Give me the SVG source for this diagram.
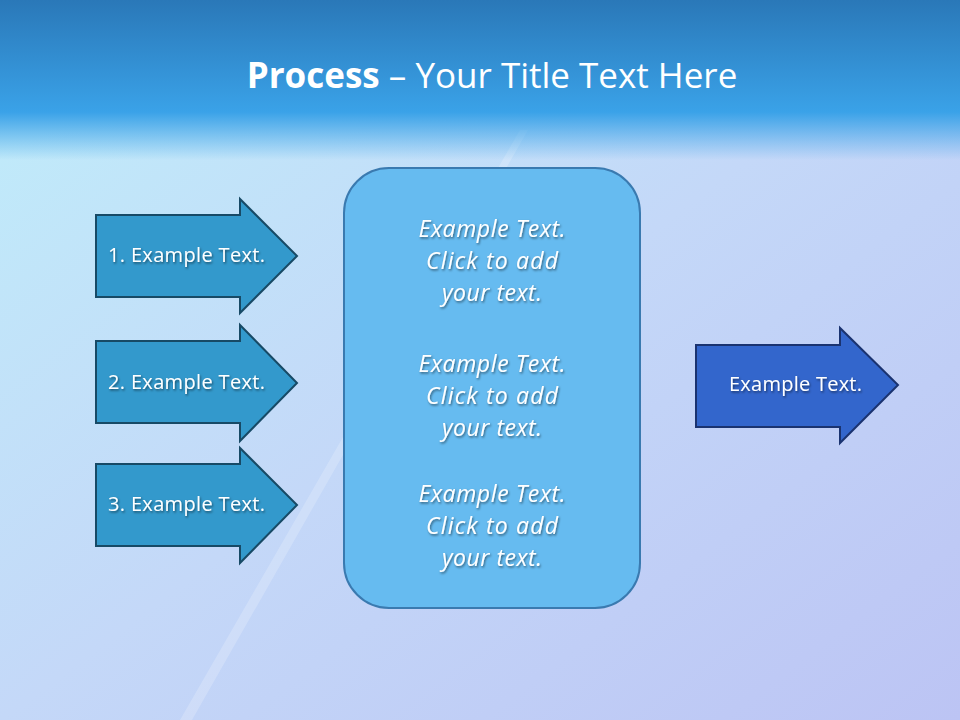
<svg xmlns="http://www.w3.org/2000/svg" width="960" height="720" viewBox="0 0 960 720">
<defs>
<linearGradient id="bg" x1="0" y1="0" x2="1" y2="1">
<stop offset="0" stop-color="#bfeefa"/><stop offset="0.5" stop-color="#c4d8f8"/><stop offset="1" stop-color="#bcc4f4"/>
</linearGradient>
<linearGradient id="hd" x1="0" y1="0" x2="0" y2="1">
<stop offset="0" stop-color="#2a78b8"/><stop offset="0.7" stop-color="#3aa2e8"/><stop offset="1" stop-color="#3aa2e8" stop-opacity="0"/>
</linearGradient>
<filter id="sh"><feDropShadow dx="1" dy="1.5" stdDeviation="1" flood-color="#000" flood-opacity="0.5"/></filter>
</defs>
<style>
.arr{fill:#3399cc;stroke:#174a66;stroke-width:2}
.t{font-family:"Open Sans","Noto Sans",sans-serif;font-size:20px;fill:#fff;filter:url(#sh)}
.i{font-family:"Open Sans","Noto Sans",sans-serif;font-size:23px;font-style:italic;fill:#fff;text-anchor:middle;filter:url(#sh)}
</style>
<rect width="960" height="720" fill="url(#bg)"/>
<path d="M180 720 L520 130 L528 130 L192 720Z" fill="#fff" opacity="0.2"/>
<rect width="960" height="160" fill="url(#hd)"/>
<text x="492" y="88" text-anchor="middle" font-family="Open Sans,Noto Sans,sans-serif" font-size="35" fill="#fff"><tspan font-weight="bold">Process</tspan> – Your Title Text Here</text>
<g id="a1"><path class="arr" d="M96 215H240V199L297 256L240 313V297H96Z"/><text class="t" x="108" y="262" textLength="157">1. Example Text.</text></g>
<g id="a2"><path class="arr" d="M96 341H240V325L297 383L240 441V423H96Z"/><text class="t" x="108" y="389" textLength="157">2. Example Text.</text></g>
<g id="a3"><path class="arr" d="M96 464H240V448L297 505L240 563V546H96Z"/><text class="t" x="108" y="511" textLength="157">3. Example Text.</text></g>
<g id="box"><rect x="344" y="168" width="296" height="440" rx="45" fill="#66bbf0" stroke="#3a7ab0" stroke-width="2"/>
<text class="i" x="492" y="237" textLength="147">Example Text.</text><text class="i" x="492" y="269" textLength="132">Click  to add</text><text class="i" x="492" y="301" textLength="100">your text.</text>
<text class="i" x="492" y="372" textLength="147">Example Text.</text><text class="i" x="492" y="404" textLength="132">Click  to add</text><text class="i" x="492" y="436" textLength="100">your text.</text>
<text class="i" x="492" y="502" textLength="147">Example Text.</text><text class="i" x="492" y="534" textLength="132">Click  to add</text><text class="i" x="492" y="566" textLength="100">your text.</text></g>
<g id="out"><path d="M696 345H840V328L898 385L840 443V427H696Z" fill="#3366cc" stroke="#1a3370" stroke-width="2"/><text class="t" x="729" y="391" textLength="133">Example Text.</text></g>
<g id="connectors"/>
</svg>
